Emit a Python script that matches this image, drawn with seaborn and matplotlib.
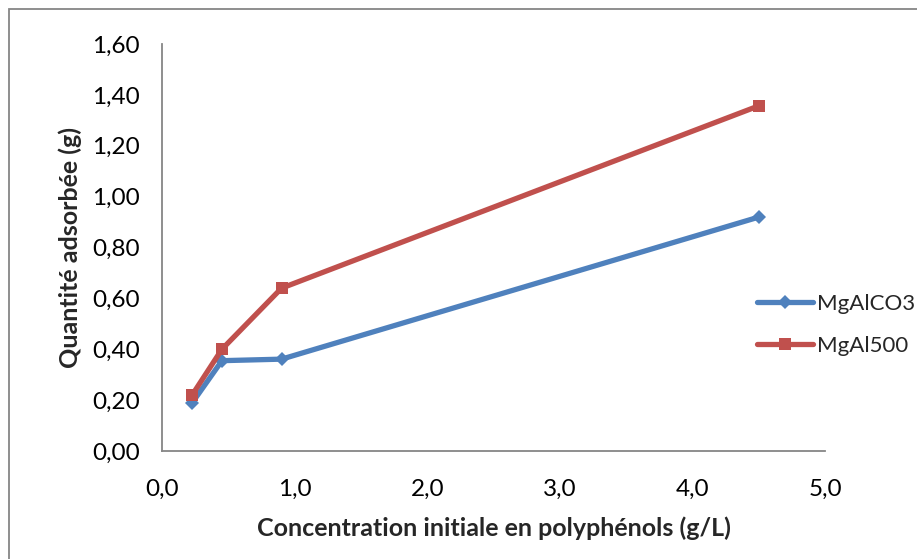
import matplotlib
matplotlib.use("Agg")
import matplotlib.pyplot as plt
import seaborn as sns
import pandas as pd
from matplotlib.patches import Rectangle
from matplotlib.lines import Line2D

sns.set_theme(style="white")
plt.rcParams['font.family'] = ['Lato', 'DejaVu Sans']

concentration = [0.225, 0.45, 0.9, 4.5]
mgalco3 = [0.19, 0.356, 0.362, 0.92]
mgal500 = [0.221, 0.401, 0.641, 1.357]
series_names = ["MgAlCO3", "MgAl500"]
x_ticks = [0.0, 1.0, 2.0, 3.0, 4.0, 5.0]
x_tick_labels = ["0,0", "1,0", "2,0", "3,0", "4,0", "5,0"]
y_ticks = [0.0, 0.2, 0.4, 0.6, 0.8, 1.0, 1.2, 1.4, 1.6]
y_tick_labels = ["0,00", "0,20", "0,40", "0,60", "0,80", "1,00", "1,20", "1,40", "1,60"]
x_label = "Concentration initiale en polyphénols (g/L)"
y_label = "Quantité adsorbée (g)"

df = pd.DataFrame({
    "x": concentration * 2,
    "y": mgalco3 + mgal500,
    "serie": [series_names[0]] * len(concentration) + [series_names[1]] * len(concentration),
})

colors = {"MgAlCO3": "#4F81BD", "MgAl500": "#C0504D"}
markers = {"MgAlCO3": "D", "MgAl500": "s"}
msizes = {"MgAlCO3": 7.5, "MgAl500": 9}

W, H = 917, 559
fig = plt.figure(figsize=(W / 100, H / 100), dpi=100)
ax = fig.add_axes([162.3 / W, 1 - 451.3 / H, (825 - 162.3) / W, (451.3 - 44) / H])

for name in series_names:
    sub = df[df["serie"] == name]
    sns.lineplot(data=sub, x="x", y="y", ax=ax, color=colors[name], linewidth=3.8,
                 marker=markers[name], markersize=msizes[name], markeredgewidth=0,
                 legend=False, sort=False)

ax.set_xlim(0, 5)
ax.set_ylim(0, 1.6)
ax.set_xticks(x_ticks)
ax.set_xticklabels(x_tick_labels)
ax.set_yticks(y_ticks)
ax.set_yticklabels(y_tick_labels)
for s in ["top", "right"]:
    ax.spines[s].set_visible(False)
for s in ["left", "bottom"]:
    ax.spines[s].set_color("#868686")
    ax.spines[s].set_linewidth(1.3)
ax.tick_params(axis="both", which="major", direction="inout", length=12, width=1.3,
               color="#868686", labelsize=17.5, labelcolor="black", pad=10)
ax.tick_params(axis="x", pad=14)
ax.set_xlabel(x_label, fontsize=18, fontweight="bold", labelpad=12)
ax.set_ylabel("")
fig.text(70 / W, 1 - 247.5 / H, y_label, rotation=90, ha="center", va="center",
         fontsize=18, fontweight="bold")
ax.grid(False)

handles = [Line2D([0], [0], color=colors[n], lw=3.8, marker=markers[n], markersize=msizes[n],
                  markeredgewidth=0) for n in series_names]
fig.legend(handles, series_names, loc="center left", bbox_to_anchor=(757 / W, 1 - 325 / H),
           frameon=False, fontsize=16, handlelength=2.5, handletextpad=0.2, labelspacing=1.0,
           borderpad=0, borderaxespad=0)

fig.patches.append(Rectangle((9 / W, -0.1), 1.2, (H - 9) / H + 0.1, transform=fig.transFigure,
                             fill=False, edgecolor="#868686", linewidth=1.3))

fig.savefig("out.png", dpi=100, facecolor="white")
